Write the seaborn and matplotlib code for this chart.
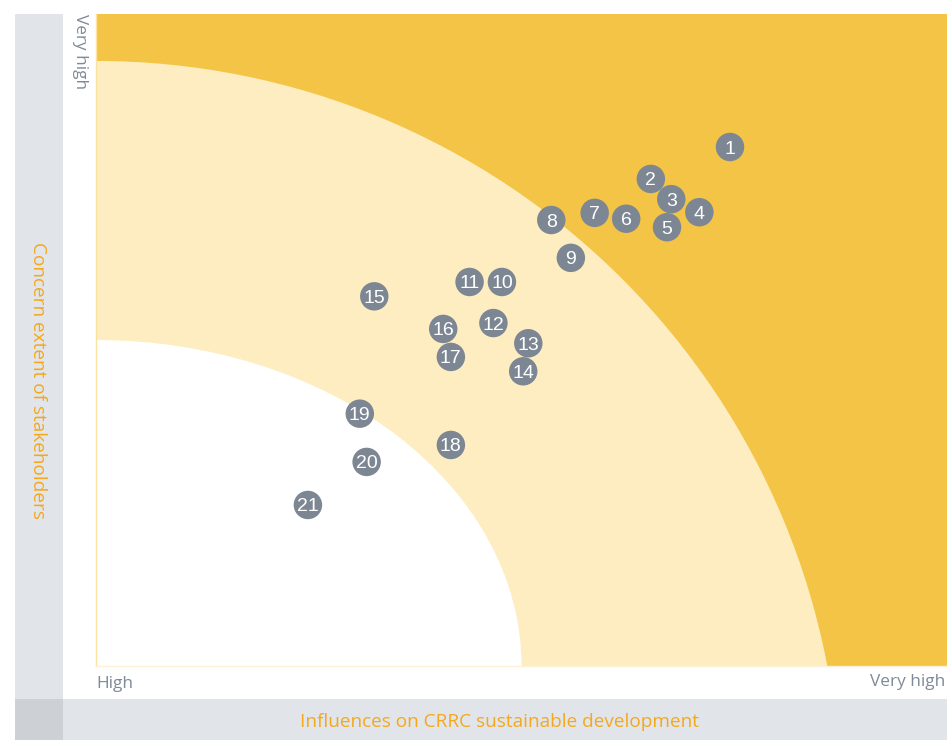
import numpy as np
import pandas as pd
import seaborn as sns
import matplotlib
matplotlib.use("Agg")
import matplotlib.pyplot as plt
from matplotlib.patches import Ellipse, Rectangle

# ---- data ----
labels = [str(i) for i in range(1, 22)]
influence = [74.5, 65.2, 67.6, 70.9, 67.1, 62.3, 58.6, 53.5, 55.8, 47.7, 43.9,
             46.7, 50.8, 50.2, 32.7, 40.8, 41.7, 41.7, 31.0, 31.8, 24.9]
concern = [79.6, 74.7, 71.6, 69.6, 67.3, 68.6, 69.5, 68.4, 62.6, 58.9, 58.9,
           52.6, 49.5, 45.2, 56.7, 51.7, 47.4, 33.9, 38.7, 31.3, 24.7]

x_title = "Influences on CRRC sustainable development"
y_title = "Concern extent of stakeholders"
x_tick_labels = ["High", "Very high"]
y_tick_label = "Very high"

df = pd.DataFrame({"label": labels, "influence": influence, "concern": concern})

sns.set_style("white")
plt.rcParams["font.family"] = ["Open Sans", "DejaVu Sans"]

W, H = 947, 740
fig = plt.figure(figsize=(W / 100, H / 100), dpi=100)
fig.patch.set_facecolor("white")


def fx(px):
    return px / W


def fy(py):
    return 1 - py / H


def rect(x0, y0, x1, y1, color):
    fig.patches.append(Rectangle((fx(x0), fy(y1)), fx(x1) - fx(x0), fy(y0) - fy(y1),
                                 transform=fig.transFigure, facecolor=color,
                                 edgecolor="none", zorder=0))


# frame bands
rect(15, 14, 63, 699, "#e1e5e9")
rect(63, 699, 947, 740, "#e1e5e9")
rect(15, 699, 63, 740, "#cdd1d6")

ax = fig.add_axes([fx(96), fy(666), (947 - 96) / W, (666 - 14) / H])
ax.set_xlim(0, 100)
ax.set_ylim(0, 100)
ax.set_facecolor("#f3c445")

# importance zones
ax.add_patch(Ellipse((0, -21.5), 2 * 87.5, 2 * 114.3, facecolor="#feedc1",
                     edgecolor="none", zorder=1))
ax.add_patch(Ellipse((0, 0), 2 * 50, 2 * 50, facecolor="white",
                     edgecolor="none", zorder=2))

sns.scatterplot(data=df, x="influence", y="concern", ax=ax, s=420,
                color="#7d8794", edgecolor="none", zorder=3, legend=False)
for lab, xv, yv in zip(df["label"], df["influence"], df["concern"]):
    ax.text(xv, yv, lab, ha="center", va="center_baseline", color="white",
            fontsize=14, family=["Liberation Sans", "DejaVu Sans"], zorder=4)

ax.set_xticks([])
ax.set_yticks([])
ax.set_xlabel("")
ax.set_ylabel("")
for s in ["top", "right"]:
    ax.spines[s].set_visible(False)
ax.spines["left"].set_color("#fbe2a0")
ax.spines["left"].set_linewidth(1.0)
ax.spines["bottom"].set_color("#fdf2d8")
ax.spines["bottom"].set_linewidth(1.0)

gray = "#7f8a98"
orange = "#f4a81d"
fig.text(fx(96), fy(684), x_tick_labels[0], ha="left", va="center",
         color=gray, fontsize=12.4)
fig.text(fx(945), fy(682), x_tick_labels[1], ha="right", va="center",
         color=gray, fontsize=12.4)
fig.text(fx(80), fy(14), y_tick_label, ha="center", va="top", rotation=270,
         color=gray, fontsize=12.3)
fig.text(fx(499), fy(722), x_title, ha="center", va="center",
         color=orange, fontsize=13.7)
fig.text(fx(38), fy(381), y_title, ha="center", va="center", rotation=270,
         color=orange, fontsize=13.7)

fig.savefig("out.png", dpi=100)
